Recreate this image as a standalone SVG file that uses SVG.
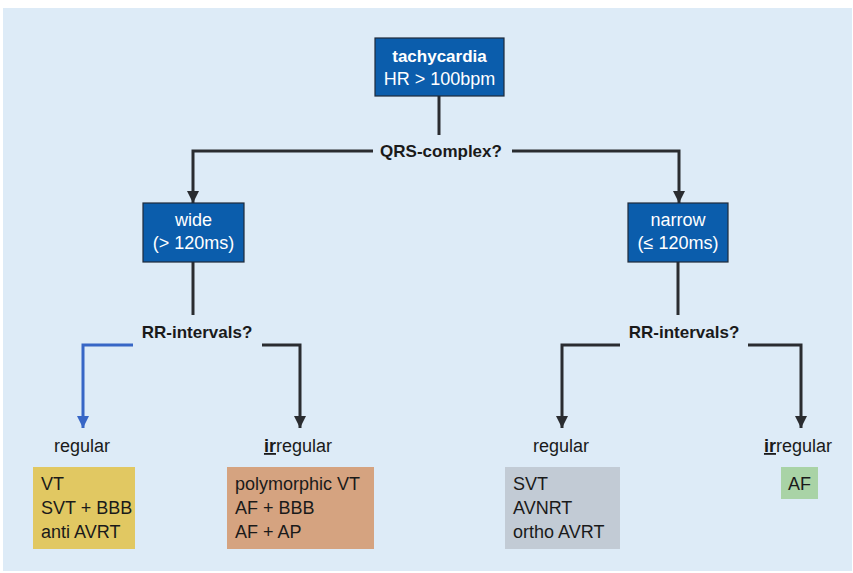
<svg xmlns="http://www.w3.org/2000/svg" width="853" height="573" viewBox="0 0 853 573">
<style>
text{font-family:"Liberation Sans",Arial,sans-serif;font-size:18px;fill:#1a1a1a}
.w{fill:#ffffff}
.b{font-weight:bold;font-size:17px}
.blue{fill:#0B5DAC;stroke:#1E2A3A;stroke-width:1.2}
.ln{fill:none;stroke:#2A2C30;stroke-width:3}
.lb{fill:none;stroke:#3766C6;stroke-width:3}
</style>
<defs>
<marker id="down" markerUnits="userSpaceOnUse" markerWidth="12" markerHeight="12" viewBox="0 0 12 12" refX="6" refY="12" orient="0">
<path d="M0,0 L12,0 L6,12 Z" fill="#2A2C30"/>
</marker>
<marker id="downb" markerUnits="userSpaceOnUse" markerWidth="12" markerHeight="12" viewBox="0 0 12 12" refX="6" refY="12" orient="0">
<path d="M0,0 L12,0 L6,12 Z" fill="#3766C6"/>
</marker>
</defs>
<rect x="0" y="0" width="853" height="573" fill="#ffffff"/>
<rect x="3" y="8" width="849" height="563" fill="#DDEBF7"/>
<g id="connectors">
<path class="ln" d="M439,96 V135"/>
<path class="ln" d="M373,151 H193 V203" marker-end="url(#down)"/>
<path class="ln" d="M512,151 H679 V203" marker-end="url(#down)"/>
<path class="ln" d="M193,262 V315"/>
<path class="ln" d="M678,262 V315"/>
<path class="lb" d="M133,345 H83 V428" marker-end="url(#downb)"/>
<path class="ln" d="M262,345 H300 V428" marker-end="url(#down)"/>
<path class="ln" d="M620,345 H562 V428" marker-end="url(#down)"/>
<path class="ln" d="M748,345 H801 V428" marker-end="url(#down)"/>
</g>
<g id="tachycardia">
<rect class="blue" x="375" y="38" width="129" height="58"/>
<text class="w b" x="439.5" y="62" text-anchor="middle">tachycardia</text>
<text class="w" x="439.5" y="85" text-anchor="middle">HR &gt; 100bpm</text>
</g>
<g id="qrs">
<text class="b" x="441" y="157" text-anchor="middle">QRS-complex?</text>
</g>
<g id="wide">
<rect class="blue" x="143" y="203" width="101" height="59"/>
<text class="w" x="193.5" y="226" text-anchor="middle">wide</text>
<text class="w" x="193.5" y="249" text-anchor="middle">(&gt; 120ms)</text>
</g>
<g id="narrow">
<rect class="blue" x="628" y="203" width="100" height="59"/>
<text class="w" x="678" y="226" text-anchor="middle">narrow</text>
<text class="w" x="678" y="249" text-anchor="middle">(≤ 120ms)</text>
</g>
<g id="rr-left">
<text class="b" x="197" y="338" text-anchor="middle">RR-intervals?</text>
</g>
<g id="rr-right">
<text class="b" x="684" y="338" text-anchor="middle">RR-intervals?</text>
</g>
<g id="regular-left">
<text x="82" y="452" text-anchor="middle">regular</text>
</g>
<g id="irregular-left">
<text x="298" y="452" text-anchor="middle"><tspan font-weight="bold" text-decoration="underline">ir</tspan>regular</text>
</g>
<g id="regular-right">
<text x="561" y="452" text-anchor="middle">regular</text>
</g>
<g id="irregular-right">
<text x="798" y="452" text-anchor="middle"><tspan font-weight="bold" text-decoration="underline">ir</tspan>regular</text>
</g>
<g id="wide-regular">
<rect x="33" y="467" width="102" height="82" fill="#E1C862"/>
<text x="41" y="490">VT</text>
<text x="41" y="514">SVT + BBB</text>
<text x="41" y="538">anti AVRT</text>
</g>
<g id="wide-irregular">
<rect x="227" y="467" width="147" height="82" fill="#D5A380"/>
<text x="235" y="490">polymorphic VT</text>
<text x="235" y="514">AF + BBB</text>
<text x="235" y="538">AF + AP</text>
</g>
<g id="narrow-regular">
<rect x="505" y="467" width="115" height="82" fill="#C2CBD5"/>
<text x="513" y="490">SVT</text>
<text x="513" y="514">AVNRT</text>
<text x="513" y="538">ortho AVRT</text>
</g>
<g id="narrow-irregular">
<rect x="781" y="467" width="37" height="32" fill="#A9D3A6"/>
<text x="799.5" y="490" text-anchor="middle">AF</text>
</g>
</svg>
